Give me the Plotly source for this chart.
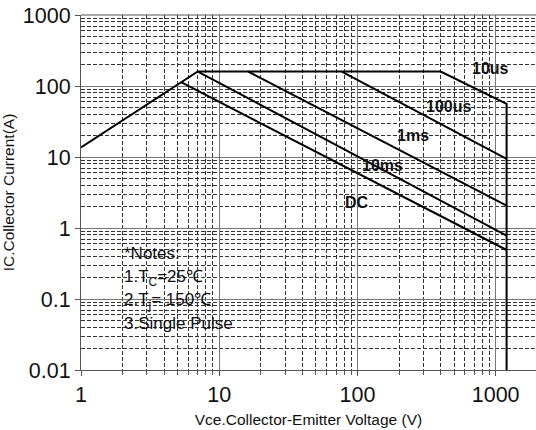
import math
import plotly.graph_objects as go

# Safe operating area data
boundary_vce = [1, 7, 400, 1200, 1200]
boundary_ic = [13.6, 160, 160, 56, 0.01]
us100_vce = [77, 1200]
us100_ic = [160, 9.4]
ms1_vce = [16.2, 1200]
ms1_ic = [160, 2.06]
ms10_vce = [7, 1200]
ms10_ic = [160, 0.78]
dc_vce = [5.3, 1200]
dc_ic = [113, 0.49]

curve_labels = ["10us", "100us", "1ms", "10ms", "DC"]
label_vce = [912, 453, 251, 153, 99]
label_ic = [175, 52, 20, 7.5, 2.27]

y_tickvals = [0.01, 0.1, 1, 10, 100, 1000]
y_ticktext = ["0.01", "0.1", "1", "10", "100", "1000"]
x_tickvals = [1, 10, 100, 1000]
x_ticktext = ["1", "10", "100", "1000"]

notes = ["*Notes:", "1.T<sub>C</sub>=25℃", "2.T<sub>j</sub>= 150℃", "3.Single Pulse"]
notes_vce = [1.98, 1.98, 1.98, 1.98]
notes_ic = [0.435, 0.2, 0.0946, 0.045]

fig = go.Figure()
line = dict(color="black", width=2)
for xs, ys in [(boundary_vce, boundary_ic), (us100_vce, us100_ic), (ms1_vce, ms1_ic),
               (ms10_vce, ms10_ic), (dc_vce, dc_ic)]:
    fig.add_trace(go.Scatter(x=xs, y=ys, mode="lines", line=line, showlegend=False,
                             hoverinfo="skip"))

for t, xv, yv in zip(curve_labels, label_vce, label_ic):
    fig.add_annotation(x=math.log10(xv), y=math.log10(yv), xref="x", yref="y",
                       text="<b>" + t + "</b>", showarrow=False,
                       font=dict(size=16, color="#111", family="Liberation Sans, Arial"))

for t, xv, yv in zip(notes, notes_vce, notes_ic):
    fig.add_annotation(x=math.log10(xv), y=math.log10(yv), xref="x", yref="y", text=t,
                       xanchor="left", showarrow=False,
                       font=dict(size=17, color="#111", family="Liberation Sans, Arial"))

minor_vals = [m * 10 ** e for e in range(-3, 4) for m in range(2, 10)]

fig.update_xaxes(type="log", range=[0, 3.292], tickvals=x_tickvals, ticktext=x_ticktext,
                 showgrid=True, gridcolor="#777", gridwidth=1,
                 showline=True, linecolor="#555", linewidth=1,
                 ticks="outside", ticklen=5, tickcolor="#555",
                 tickfont=dict(size=21.5, color="#111"),
                 minor=dict(tickvals=minor_vals, showgrid=True, gridcolor="#333",
                            griddash="4px,2px", gridwidth=1, ticks="outside",
                            ticklen=4, tickcolor="#555"),
                 title=dict(text="Vce.Collector-Emitter Voltage (V)",
                            font=dict(size=15.5, color="#111"), standoff=8),
                 zeroline=False, mirror=False)
fig.update_yaxes(type="log", range=[-2, 3], tickvals=y_tickvals, ticktext=y_ticktext,
                 showgrid=True, gridcolor="#777", gridwidth=1,
                 showline=True, linecolor="#555", linewidth=1,
                 ticks="outside", ticklen=5, tickcolor="#555",
                 tickfont=dict(size=21.5, color="#111"),
                 minor=dict(tickvals=minor_vals, showgrid=True, gridcolor="#333",
                            griddash="4px,2px", gridwidth=1),
                 title=dict(text="IC.Collector Current(A)",
                            font=dict(size=15.5, color="#111"), standoff=4),
                 zeroline=False)

fig.add_shape(type="line", xref="paper", yref="paper", x0=0, x1=1, y0=1, y1=1,
              line=dict(color="#555", width=1))

fig.update_layout(width=536, height=430, margin=dict(l=81, r=0, t=15, b=60),
                  plot_bgcolor="white", paper_bgcolor="white",
                  font=dict(family="Liberation Sans, Arial", color="#111"))

fig.write_html("out.html")
